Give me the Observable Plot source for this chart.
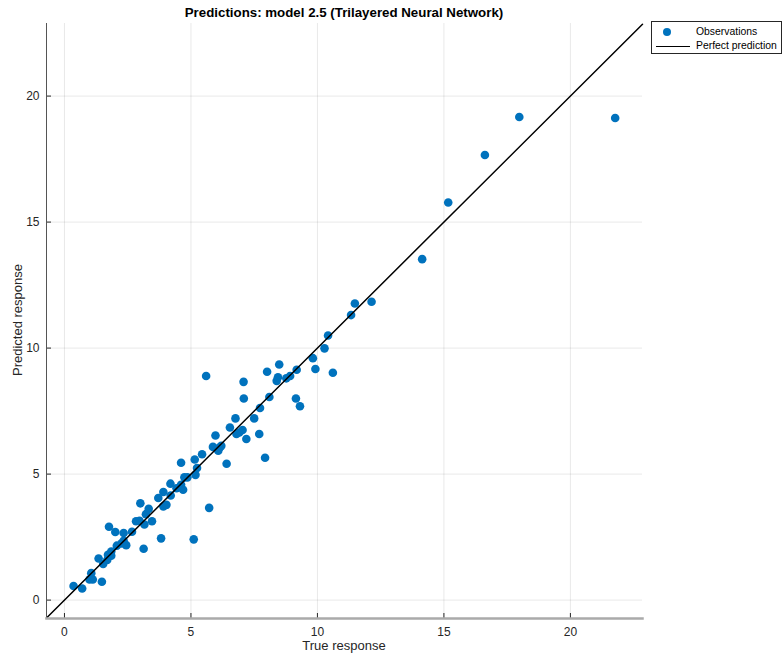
<!DOCTYPE html>
<html>
<head>
<meta charset="utf-8">
<script src="https://cdn.jsdelivr.net/npm/d3@7"></script>
<script src="https://cdn.jsdelivr.net/npm/@observablehq/plot@0.6"></script>
<style>
  html, body { margin: 0; padding: 0; background: #fff; }
  #wrap { position: relative; width: 784px; height: 655px; font-family: "Liberation Sans", Arial, sans-serif; color: #262626; }
  #title { position: absolute; left: 0; width: 688px; top: 5px; text-align: center; font-weight: bold; font-size: 13.3px; color: #000; }
  #xlabel { position: absolute; left: 46px; width: 596px; top: 638px; text-align: center; font-size: 13px; color: #262626; }
  #ylabel { position: absolute; left: 17px; top: 320px; font-size: 13px; color: #262626; transform: translate(-50%, -50%) rotate(-90deg); white-space: nowrap; }
  #legend { position: absolute; left: 651px; top: 21px; width: 131px; height: 33px; border: 1px solid #262626; box-sizing: border-box; background: #fff; font-size: 10.4px; color: #000; }
  #legend .row { position: absolute; left: 0; height: 14px; line-height: 14px; }
  #legend .dot { position: absolute; left: 10px; width: 8px; height: 8px; border-radius: 50%; background: #0072BD; }
  #legend .ln { position: absolute; left: 4px; width: 34px; height: 0; border-top: 1.3px solid #000; }
  #legend .txt { position: absolute; left: 44px; white-space: nowrap; }
</style>
</head>
<body>
<div id="wrap">
  <div id="chart"></div>
  <div id="title"></div>
  <div id="xlabel"></div>
  <div id="ylabel"></div>
  <div id="legend"></div>
</div>
<script>
const title = "Predictions: model 2.5 (Trilayered Neural Network)";
const xLabel = "True response";
const yLabel = "Predicted response";
const seriesNames = ["Observations", "Perfect prediction"];
const xTicks = [0, 5, 10, 15, 20];
const yTicks = [0, 5, 10, 15, 20];
const xDomain = [-0.71, 22.85];
const yDomain = [-0.73, 22.88];

const trueResponse = [
  0.36, 0.70, 1.06, 0.99, 1.12, 1.48, 1.35, 1.53, 1.69, 1.76,
  1.85, 1.85, 1.72, 2.01, 2.07, 2.34, 2.34, 2.44, 2.26, 2.67,
  2.83, 3.00, 3.13, 3.16, 3.22, 3.33, 3.46, 2.97, 3.71, 3.82,
  3.91, 3.91, 4.03, 4.19, 4.20, 4.43, 4.61, 4.61, 4.69, 4.74,
  4.86, 5.11, 5.15, 5.18, 5.24, 5.60, 5.44, 5.72, 5.87, 5.97,
  6.08, 6.14, 6.20, 6.41, 6.54, 6.76, 6.80, 6.91, 7.04, 7.08,
  7.09, 7.19, 7.50, 7.70, 7.73, 7.93, 8.01, 8.10, 8.39, 8.44,
  8.49, 8.77, 8.92, 9.15, 9.18, 9.31, 9.82, 9.92, 10.28, 10.42,
  10.61, 11.48, 12.14, 11.33, 14.14, 15.17, 16.62, 17.98, 21.77
];
const predictedResponse = [
  0.56, 0.46, 1.07, 0.82, 0.82, 0.73, 1.65, 1.43, 1.59, 2.91,
  1.76, 1.93, 1.80, 2.70, 2.16, 2.66, 2.35, 2.18, 2.25, 2.71,
  3.13, 3.84, 2.04, 3.00, 3.41, 3.62, 3.13, 3.15, 4.05, 2.45,
  4.29, 3.72, 3.78, 4.62, 4.15, 4.44, 5.45, 4.58, 4.38, 4.87,
  4.87, 2.41, 5.58, 4.97, 5.24, 8.89, 5.79, 3.66, 6.08, 6.53,
  5.93, 6.06, 6.12, 5.41, 6.85, 7.21, 6.59, 6.65, 6.75, 8.66,
  8.00, 6.39, 7.21, 6.59, 7.62, 5.65, 9.06, 8.06, 8.70, 8.84,
  9.35, 8.80, 8.89, 8.00, 9.14, 7.69, 9.60, 9.17, 9.99, 10.50,
  9.02, 11.77, 11.84, 11.31, 13.53, 15.78, 17.66, 19.17, 19.13
];

const obs = trueResponse.map((x, i) => ({x, y: predictedResponse[i]}));
const lo = Math.max(xDomain[0], yDomain[0]);
const hi = Math.min(xDomain[1], yDomain[1]);
const perfect = [{x: lo, y: lo}, {x: hi, y: hi}];

const font = "Liberation Sans, Arial, sans-serif";

const chart = Plot.plot({
  width: 784,
  height: 655,
  marginLeft: 46,
  marginRight: 142,
  marginTop: 23,
  marginBottom: 37,
  style: {fontFamily: font, fontSize: "12px", color: "#262626", background: "#fff"},
  x: {domain: xDomain, ticks: xTicks},
  y: {domain: yDomain, ticks: yTicks},
  marks: [
    Plot.gridX(xTicks, {stroke: "#000", strokeOpacity: 0.09}),
    Plot.gridY(yTicks, {stroke: "#000", strokeOpacity: 0.09}),
    Plot.dot(obs, {x: "x", y: "y", r: 4.3, fill: "#0072BD", stroke: "none"}),
    Plot.line(perfect, {x: "x", y: "y", stroke: "#000", strokeWidth: 1.5}),
    Plot.axisX(xTicks, {tickSize: 0, tickPadding: 9, fontSize: 12, label: null}),
    Plot.axisY(yTicks, {tickSize: 0, tickPadding: 7, fontSize: 12, label: null}),
    Plot.axisX(xTicks, {tickSize: -5, text: null, label: null, stroke: "#262626"}),
    Plot.axisY(yTicks, {tickSize: -5, text: null, label: null, stroke: "#262626"}),
    Plot.frame({anchor: "left", stroke: "#555", strokeWidth: 1}),
    Plot.frame({anchor: "bottom", stroke: "#aaa", strokeWidth: 2.5})
  ]
});
document.getElementById("chart").append(chart);
document.getElementById("title").textContent = title;
document.getElementById("xlabel").textContent = xLabel;
document.getElementById("ylabel").textContent = yLabel;

const lg = document.getElementById("legend");
lg.innerHTML = `
  <div class="row" style="top:3px;width:100%"><div class="dot" style="left:11px;top:3px"></div><div class="txt">${seriesNames[0]}</div></div>
  <div class="row" style="top:17px;width:100%"><div class="ln" style="top:7px"></div><div class="txt">${seriesNames[1]}</div></div>`;
</script>
</body>
</html>
